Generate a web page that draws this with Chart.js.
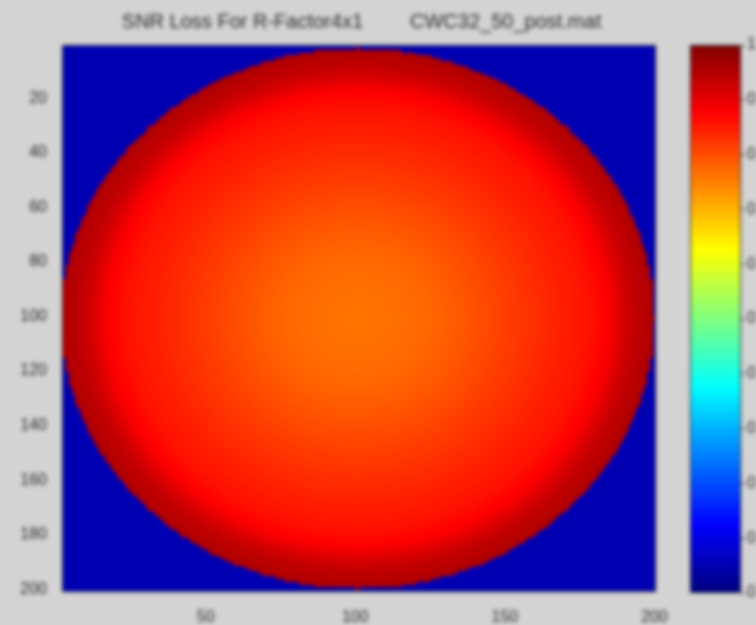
<!DOCTYPE html>
<html>
<head>
<meta charset="utf-8">
<script src="https://cdn.jsdelivr.net/npm/chart.js@4/dist/chart.umd.min.js"></script>
<style>
  html, body { margin: 0; padding: 0; background: #d3d3d3; }
  #wrap { position: relative; width: 756px; height: 625px; overflow: hidden; }
  canvas { position: absolute; top: 0; filter: blur(2px); }
  #map { left: 0; }
  #bar { left: 680px; }
</style>
</head>
<body>
<div id="wrap">
  <canvas id="map" width="680" height="625"></canvas>
  <canvas id="bar" width="76" height="625"></canvas>
</div>
<script>
// axis ticks
const xTicks = [50, 100, 150, 200];
const yTicks = [20, 40, 60, 80, 100, 120, 140, 160, 180, 200];
const barTicks = [0, 0.1, 0.2, 0.3, 0.4, 0.5, 0.6, 0.7, 0.8, 0.9, 1];

const titleLeft = "SNR Loss For R-Factor4x1";
const titleRight = "CWC32_50_post.mat";

// image is 200 x 200 samples, a disk on a flat background
const gridSize = 200;
const diskCenter = { x: 101, y: 101 };
const diskRadius = 99;
// level read along the radius of the disk (0..1 of the colour scale)
const profileR = [0, 20, 35, 50, 65, 78, 84, 88, 92, 99];
const profileLevel = [0.76, 0.77, 0.79, 0.815, 0.84, 0.86, 0.88, 0.91, 0.935, 0.955];
const outsideLevel = 0.05;

const FONT = "'Liberation Sans', Arial, sans-serif";

function jet(v) {
  const c = (t) => Math.round(255 * Math.max(0, Math.min(1, t)));
  const r = c(Math.min(4 * v - 1.5, -4 * v + 4.5));
  const g = c(Math.min(4 * v - 0.5, -4 * v + 3.5));
  const b = c(Math.min(4 * v + 0.5, -4 * v + 2.5));
  return `rgb(${r},${g},${b})`;
}

function levelAt(r) {
  if (r > diskRadius) return outsideLevel;
  for (let i = 1; i < profileR.length; i++) {
    if (r <= profileR[i]) {
      const t = (r - profileR[i - 1]) / (profileR[i] - profileR[i - 1]);
      return profileLevel[i - 1] + t * (profileLevel[i] - profileLevel[i - 1]);
    }
  }
  return profileLevel[profileLevel.length - 1];
}

const cells = [];
for (let j = 1; j <= gridSize; j++) {
  for (let i = 1; i <= gridSize; i++) {
    const r = Math.hypot(i - diskCenter.x, j - diskCenter.y);
    cells.push({ x: i, y: j, v: levelAt(r) });
  }
}

const heatmap = {
  id: "heatmap",
  beforeDatasetsDraw(chart) {
    const { ctx, chartArea, scales } = chart;
    const sx = scales.x, sy = scales.y;
    ctx.save();
    ctx.beginPath();
    ctx.rect(chartArea.left, chartArea.top, chartArea.right - chartArea.left, chartArea.bottom - chartArea.top);
    ctx.clip();
    for (const d of chart.data.datasets[0].data) {
      const x0 = sx.getPixelForValue(d.x - 0.5), x1 = sx.getPixelForValue(d.x + 0.5);
      const y0 = sy.getPixelForValue(d.y - 0.5), y1 = sy.getPixelForValue(d.y + 0.5);
      ctx.fillStyle = jet(d.v);
      const l = Math.floor(Math.min(x0, x1)), t = Math.floor(Math.min(y0, y1));
      ctx.fillRect(l, t, Math.ceil(Math.max(x0, x1)) - l + 1, Math.ceil(Math.max(y0, y1)) - t + 1);
    }
    ctx.restore();
  }
};

const frame = {
  id: "frame",
  afterDatasetsDraw(chart) {
    const { ctx, chartArea: a } = chart;
    ctx.save();
    ctx.strokeStyle = "#1a1a2a";
    ctx.lineWidth = 1;
    ctx.strokeRect(a.left + 0.5, a.top + 0.5, a.right - a.left - 1, a.bottom - a.top - 1);
    ctx.restore();
  }
};

const titleText = {
  id: "titleText",
  afterDraw(chart) {
    const { ctx } = chart;
    ctx.save();
    ctx.fillStyle = "#2a2a2a";
    ctx.font = "20px " + FONT;
    ctx.textBaseline = "middle";
    ctx.textAlign = "right";
    ctx.fillText(titleLeft, 363, 22);
    ctx.textAlign = "left";
    ctx.fillText(titleRight, 410, 22);
    ctx.restore();
  }
};

const tickFont = { family: FONT, size: 16 };

new Chart(document.getElementById("map"), {
  type: "scatter",
  data: { datasets: [{ data: cells, pointRadius: 0, hoverRadius: 0 }] },
  options: {
    responsive: false,
    animation: false,
    parsing: false,
    normalized: true,
    events: [],
    layout: { padding: { top: 45, right: 24, left: 0, bottom: 0 } },
    plugins: { legend: { display: false }, tooltip: { enabled: false } },
    scales: {
      x: {
        type: "linear",
        min: 2,
        max: 200.5,
        afterBuildTicks: (s) => { s.ticks = xTicks.map((value) => ({ value })); },
        afterFit: (s) => { s.height = 33; },
        grid: { display: false },
        border: { display: false },
        ticks: { color: "#2a2a2a", font: tickFont, padding: 8, maxRotation: 0 }
      },
      y: {
        type: "linear",
        reverse: true,
        min: 0.5,
        max: 201,
        afterBuildTicks: (s) => { s.ticks = yTicks.map((value) => ({ value })); },
        afterFit: (s) => { s.width = 62; },
        grid: { display: false },
        border: { display: false },
        ticks: { color: "#2a2a2a", font: tickFont, padding: 7 }
      }
    }
  },
  plugins: [heatmap, frame, titleText]
});

// colour bar
const steps = 128;
const barSets = [];
for (let k = 0; k < steps; k++) {
  barSets.push({
    data: [[k / steps, (k + 1) / steps]],
    backgroundColor: jet((k + 0.5) / steps),
    borderWidth: 0,
    barPercentage: 1,
    categoryPercentage: 1,
    grouped: false
  });
}

new Chart(document.getElementById("bar"), {
  type: "bar",
  data: { labels: [""], datasets: barSets },
  options: {
    responsive: false,
    animation: false,
    events: [],
    layout: { padding: { top: 45, bottom: 32, left: 10, right: 0 } },
    plugins: { legend: { display: false }, tooltip: { enabled: false } },
    scales: {
      x: { display: false },
      y: {
        position: "right",
        min: 0,
        max: 1,
        afterBuildTicks: (s) => { s.ticks = barTicks.map((value) => ({ value })); },
        afterFit: (s) => { s.width = 15; },
        grid: { drawOnChartArea: false, tickLength: 4, color: "#222" },
        border: { display: false },
        ticks: { color: "#2a2a2a", font: tickFont, padding: 2, callback: (v) => String(v) }
      }
    }
  },
  plugins: [frame]
});
</script>
</body>
</html>
